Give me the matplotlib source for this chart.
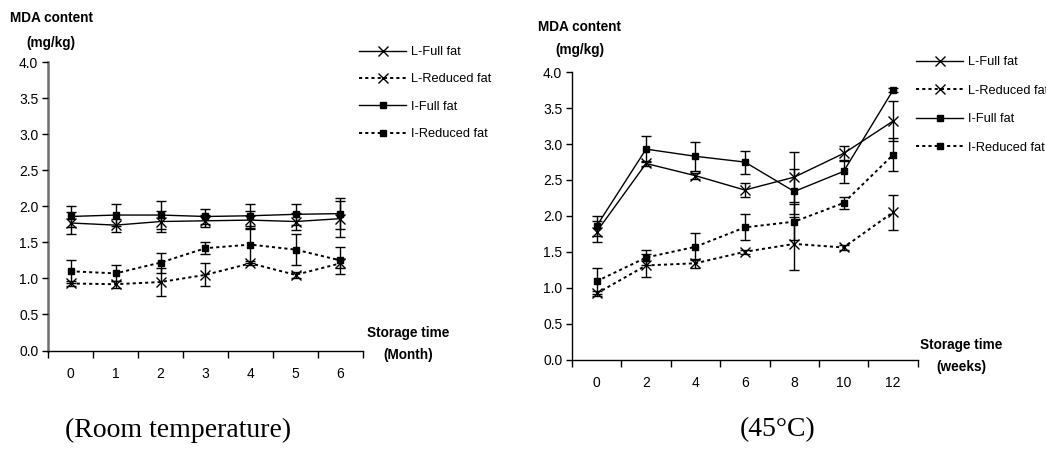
import matplotlib
matplotlib.use("Agg")
import matplotlib.pyplot as plt
from matplotlib.ticker import FixedLocator, NullFormatter

plt.rcParams["font.family"] = ["Liberation Sans", "DejaVu Sans"]

# room temperature, monthly sampling
months = [0, 1, 2, 3, 4, 5, 6]
rt_l_full = [1.77, 1.74, 1.79, 1.80, 1.81, 1.79, 1.83]
rt_l_full_err = [0.15, 0.09, 0.15, 0.08, 0.12, 0.12, 0.25]
rt_l_red = [0.93, 0.92, 0.95, 1.05, 1.21, 1.05, 1.21]
rt_l_red_err = [0.03, 0.05, 0.20, 0.16, 0.03, 0.04, 0.06]
rt_i_full = [1.86, 1.88, 1.88, 1.86, 1.87, 1.89, 1.90]
rt_i_full_err = [0.14, 0.15, 0.19, 0.10, 0.17, 0.15, 0.22]
rt_i_red = [1.10, 1.07, 1.22, 1.42, 1.47, 1.40, 1.25]
rt_i_red_err = [0.16, 0.11, 0.14, 0.08, 0.26, 0.21, 0.19]

# 45 C, sampled every two weeks
weeks = [0, 2, 4, 6, 8, 10, 12]
hot_l_full = [1.78, 2.73, 2.56, 2.36, 2.54, 2.87, 3.32]
hot_l_full_err = [0.15, 0.03, 0.04, 0.10, 0.35, 0.10, 0.28]
hot_l_red = [0.92, 1.31, 1.34, 1.50, 1.61, 1.56, 2.05]
hot_l_red_err = [0.03, 0.16, 0.06, 0.03, 0.37, 0.03, 0.24]
hot_i_full = [1.86, 2.93, 2.83, 2.75, 2.34, 2.62, 3.75]
hot_i_full_err = [0.14, 0.18, 0.20, 0.16, 0.32, 0.16, 0.03]
hot_i_red = [1.09, 1.42, 1.57, 1.84, 1.92, 2.18, 2.85]
hot_i_red_err = [0.18, 0.11, 0.19, 0.18, 0.25, 0.08, 0.23]

series_names = ["L-Full fat", "L-Reduced fat", "I-Full fat", "I-Reduced fat"]
DOTTED = (0, (1.6, 1.6))
STYLES = [("x", "-"), ("x", DOTTED), ("s", "-"), ("s", DOTTED)]

W, H = 1046, 450


def fx(px):
    return px / W


def fy(py):
    return 1 - py / H


def draw_panel(ax, xlabels, series, left_spine_color):
    pos = list(range(len(xlabels)))
    handles = []
    for (vals, errs), (mk, ls) in zip(series, STYLES):
        ms = 7 if mk == "x" else 5
        lw = 1.0 if ls == "-" else 1.4
        eb = ax.errorbar(pos, vals, yerr=errs, color="black", lw=lw, ls=ls,
                         marker=mk, ms=ms, mew=1.0, mfc="black",
                         ecolor="black", elinewidth=1.0, capsize=3.8,
                         capthick=1.0)
        handles.append(eb[0])
    ax.set_xlim(-0.5, len(xlabels) - 0.5)
    ax.set_ylim(0, 4)
    ax.set_yticks([0, 0.5, 1.0, 1.5, 2.0, 2.5, 3.0, 3.5, 4.0])
    ax.set_yticklabels([f"{v:.1f}" for v in ax.get_yticks()])
    # category axis: labels in the middle, tick marks on the boundaries
    ax.set_xticks(pos)
    ax.set_xticklabels([str(v) for v in xlabels])
    ax.xaxis.set_minor_locator(FixedLocator([p - 0.5 for p in range(len(xlabels) + 1)]))
    ax.xaxis.set_minor_formatter(NullFormatter())
    ax.tick_params(axis="x", which="major", length=0, pad=12, labelsize=10)
    ax.tick_params(axis="x", which="minor", length=5, width=1.0, direction="out")
    ax.tick_params(axis="y", length=4, width=1.0, pad=3, labelsize=10)
    for s in ("top", "right"):
        ax.spines[s].set_visible(False)
    ax.spines["bottom"].set_linewidth(1.0)
    ax.spines["left"].set_color(left_spine_color)
    ax.spines["left"].set_linewidth(1.8 if left_spine_color != "black" else 1.0)
    ax.spines["left"].set_zorder(0)
    return handles


fig = plt.figure(figsize=(W / 100, H / 100), dpi=100)

ax1 = fig.add_axes([fx(48), fy(350.5), fx(363 - 48), (350.5 - 62.3) / H])
h1 = draw_panel(ax1, months,
                [(rt_l_full, rt_l_full_err), (rt_l_red, rt_l_red_err),
                 (rt_i_full, rt_i_full_err), (rt_i_red, rt_i_red_err)],
                "#6e6e6e")

ax2 = fig.add_axes([fx(572), fy(359.5), fx(917.7 - 572), (359.5 - 72.3) / H])
h2 = draw_panel(ax2, weeks,
                [(hot_l_full, hot_l_full_err), (hot_l_red, hot_l_red_err),
                 (hot_i_full, hot_i_full_err), (hot_i_red, hot_i_red_err)],
                "black")

legend_kw = dict(frameon=False, fontsize=9.2, handlelength=3.7,
                 handletextpad=0.35, borderpad=0,
                 borderaxespad=0, loc="upper left")
fig.legend(h1, series_names, bbox_to_anchor=(fx(359), fy(46)),
           labelspacing=1.2, **legend_kw)
fig.legend(h2, series_names, bbox_to_anchor=(fx(916), fy(56)),
           labelspacing=1.3, **legend_kw)

bold = dict(fontsize=9.8, fontweight="bold", ha="center", va="center")
fig.text(fx(51), fy(18), "MDA content", **bold)
fig.text(fx(51), fy(43), "(mg/kg)", **bold)
fig.text(fx(579), fy(27), "MDA content", **bold)
fig.text(fx(580), fy(50), "(mg/kg)", **bold)
fig.text(fx(408), fy(333), "Storage time", **bold)
fig.text(fx(408), fy(355), "(Month)", **bold)
fig.text(fx(961), fy(345), "Storage time", **bold)
fig.text(fx(961), fy(367), "(weeks)", **bold)

serif = dict(fontsize=20, family="Liberation Serif", ha="center", va="center")
fig.text(fx(178), fy(430), "(Room temperature)", **serif)
fig.text(fx(778), fy(430), "(45°C)", **serif)

fig.savefig("out.png", dpi=100)
